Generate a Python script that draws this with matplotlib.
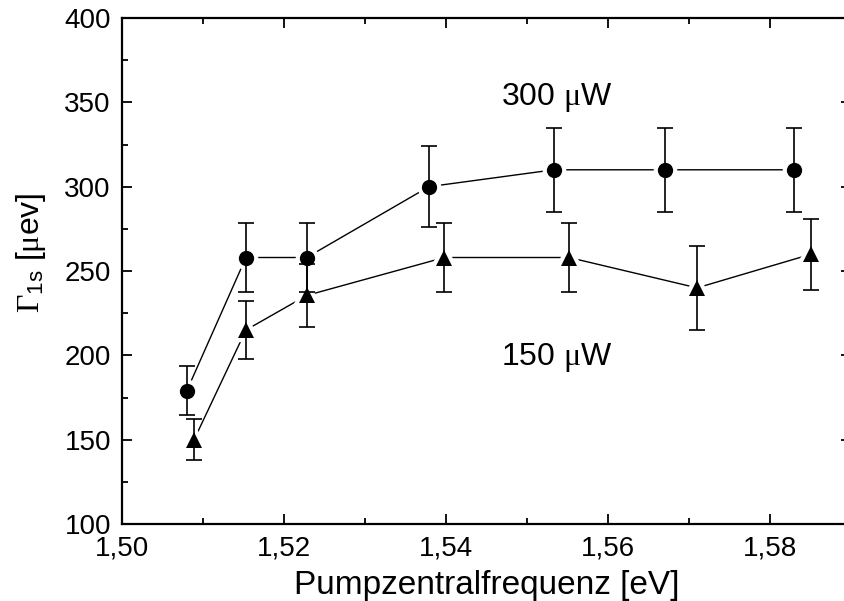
import matplotlib
matplotlib.use("Agg")
import matplotlib.pyplot as plt
from matplotlib.ticker import MultipleLocator, FuncFormatter

plt.rcParams["font.family"] = ["Liberation Sans", "DejaVu Sans"]
plt.rcParams["mathtext.fontset"] = "custom"
plt.rcParams["mathtext.rm"] = "Liberation Serif"
plt.rcParams["mathtext.sf"] = "Liberation Sans"
plt.rcParams["mathtext.it"] = "Liberation Serif:italic"

# Linewidth of the 1s exciton vs. pump centre frequency, two pump powers
x_300 = [1.5080, 1.5153, 1.5228, 1.5379, 1.5533, 1.5670, 1.5830]
y_300 = [179, 258, 258, 300, 310, 310, 310]
e_300 = [14.5, 20.5, 20.5, 24, 25, 25, 25]

x_150 = [1.5089, 1.5153, 1.5228, 1.5398, 1.5552, 1.5710, 1.5851]
y_150 = [150, 215, 235.5, 258, 258, 240, 260]
e_150 = [12, 17, 18.5, 20.5, 20.5, 25, 21]

labels = ["300 $\\mathrm{\\mu}$W", "150 $\\mathrm{\\mu}$W"]

fig = plt.figure(figsize=(8.45, 6.01), dpi=100)
ax = fig.add_axes([122 / 845, 77 / 601, 729 / 845, 506 / 601])

for xs, ys, es, mk, ms in [(x_300, y_300, e_300, "o", 11),
                           (x_150, y_150, e_150, "^", 11.5)]:
    # connecting line, broken near each marker
    ax.plot(xs, ys, "-", color="black", lw=1.0, zorder=1)
    ax.plot(xs, ys, mk, ms=ms, mfc="white", mec="white", mew=6, zorder=2)
    ax.errorbar(xs, ys, yerr=es, fmt="none", ecolor="black", elinewidth=1.2,
                capsize=5.5, capthick=1.2, zorder=3)
    ax.plot(xs, ys, mk, ms=ms, mfc="black", mec="black", mew=0, zorder=4)

ax.text(1.5537, 353, labels[0], fontsize=23, ha="center", va="center")
ax.text(1.5537, 199, labels[1], fontsize=23, ha="center", va="center")

ax.set_xlim(1.50, 1.59)
ax.set_ylim(100, 400)
ax.xaxis.set_major_locator(MultipleLocator(0.02))
ax.xaxis.set_minor_locator(MultipleLocator(0.01))
ax.yaxis.set_major_locator(MultipleLocator(50))
ax.yaxis.set_minor_locator(MultipleLocator(25))
ax.xaxis.set_major_formatter(FuncFormatter(lambda v, p: f"{v:.2f}".replace(".", ",")))

ax.tick_params(which="both", direction="in", top=True, right=True, width=1.3)
ax.tick_params(which="major", length=7.5, labelsize=20, pad=8)
ax.tick_params(which="minor", length=4)
for s in ax.spines.values():
    s.set_linewidth(1.6)

ax.set_xlabel("Pumpzentralfrequenz [eV]", fontsize=24, labelpad=6.5)
ax.set_ylabel("$\\Gamma_{\\mathsf{1s}}$ [$\\mathrm{\\mu}$ev]", fontsize=23)
ax.yaxis.set_label_coords(-0.102, 0.537)

fig.savefig("out.png", dpi=100)
